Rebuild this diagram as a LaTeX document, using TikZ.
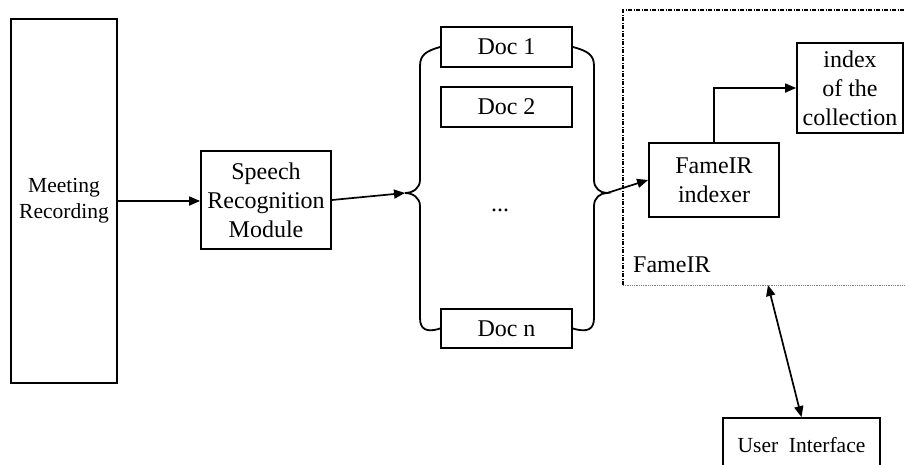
\documentclass[tikz,border=0pt]{standalone}
\usepackage{fontspec}
\setmainfont{Liberation Serif}
\usetikzlibrary{
	arrows.meta,
	positioning
}
\tikzset{
	>={Triangle[length=11pt,width=9pt]},
	block/.style={draw, line width=1.8pt, inner sep=0pt, align=center, font={\fontsize{24}{29}\selectfont}},
	docnode/.style={block, minimum width=131pt, minimum height=40pt},
	link/.style={->, line width=1.7pt},
	brace/.style={line width=1.8pt},
	framedash/.style={line width=1.8pt, dash pattern=on 4pt off 1.5pt on 1pt off 1.5pt},
	framedot/.style={line width=0.8pt, densely dotted, gray}
}

\begin{document}
\begin{tikzpicture}[x=1pt, y=-1pt]
	\useasboundingbox (0,0) rectangle (905,464);
	\clip (0,0) rectangle (905,464);

	\node[block, minimum width=106pt, minimum height=364pt, font={\fontsize{21.5}{26}\selectfont}] (rec) at (64,201) {Meeting\\Recording};
	\node[block, minimum width=130pt, minimum height=98pt] (asr) at (266,200) {Speech\\Recognition\\Module};
	\node[docnode] (doc1) at (506.5,47) {Doc 1};
	\node[docnode] (doc2) [below=18pt of doc1] {Doc 2};
	\node[docnode, minimum height=39pt] (docn) at (506.5,328.5) {Doc n};
	\node[font={\fontsize{24}{29}\selectfont}] (dots) at (500,210) {...};
	\node[block, minimum width=130pt, minimum height=74pt] (indexer) at (714,180) {FameIR\\indexer};
	\node[block, minimum width=106pt, minimum height=90pt] (index) at (850,88) {index\\of the\\collection};
	\node[block, minimum width=157pt, minimum height=54pt, font={\fontsize{21.5}{26}\selectfont}] (ui) at (801.5,445) {User\ \ Interface};

	\coordinate (ltip) at (405,193);
	\coordinate (rtip) at (607,193);

	% braces round the documents
	\draw[brace] (doc1.west) .. controls (426,51) and (420,55) .. (420,66) -- (420,180)
		.. controls (420,188) and (413,193) .. (ltip)
		.. controls (413,193) and (420,198) .. (420,206) -- (420,318)
		.. controls (420,329) and (426,333) .. (docn.west);
	\draw[brace] (doc1.east) .. controls (588,51) and (594,55) .. (594,66) -- (594,180)
		.. controls (594,188) and (600,193) .. (rtip)
		.. controls (600,193) and (594,198) .. (594,206) -- (594,318)
		.. controls (594,329) and (588,333) .. (docn.east);

	% FameIR frame
	\draw[framedash] (623,285) -- (623,10) -- (905,10);
	\draw[framedot] (623,285) -- (905,285);
	\node[anchor=base west, inner sep=0pt, font={\fontsize{24}{29}\selectfont}] (famelbl) at (633,272) {FameIR};
	\coordinate (frameb) at (768,285);

	\draw[link] (rec.east |- 0,201) -- (asr.west |- 0,201);
	\draw[link] (asr.east) -- (ltip);
	\draw[link] (rtip) -- (indexer.west);
	\draw[link] (indexer.north) |- (index.west);
	\draw[link, <->] (frameb) -- (ui.north);
\end{tikzpicture}
\end{document}
